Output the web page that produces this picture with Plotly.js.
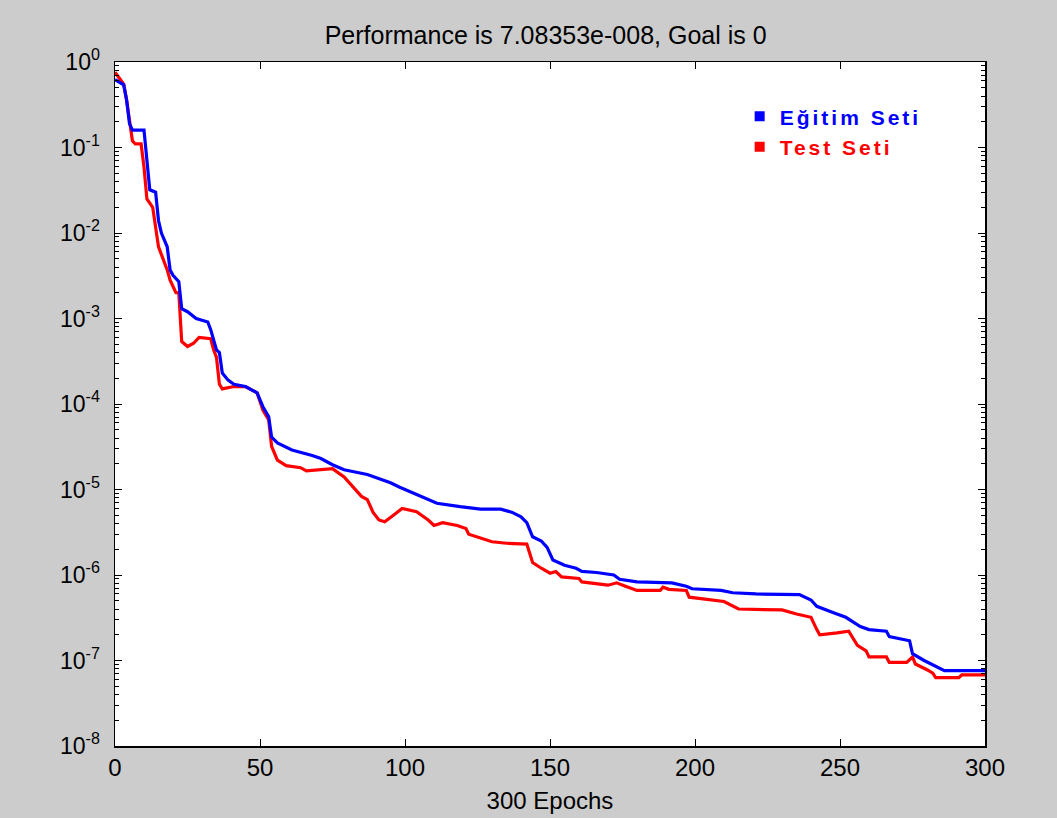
<!DOCTYPE html>
<html>
<head>
<meta charset="utf-8">
<script src="https://cdn.plot.ly/plotly-3.0.1.min.js"></script>
<style>
html,body{margin:0;padding:0;background:#cccccc;}
#chart{width:1057px;height:818px;}
.legendtext{letter-spacing:3px;}
</style>
</head>
<body>
<div id="chart"></div>
<script>
// Training set (Eğitim Seti) – epoch / performance breakpoints
const trainEpochs = [0,3,4,5,6,10,11,12,14,15,16,18,19,20,22,23,25,28,32,33,35,36,37,39,41,45,49,51,53,54,56,61,68,71,75,79,87,95,98,103,108,111,119,126,133,137,140,142,144,147,149,150,151,155,159,161,166,172,174,180,192,197,199,209,213,221,236,240,242,248,252,257,260,266,267,274,275,279,282,286,300];
const trainPerf = [0.62,0.54,0.36,0.19,0.16,0.16,0.071,0.032,0.030,0.014,0.010,0.0069,0.0037,0.0032,0.0027,0.0013,0.0012,0.0010,9.1e-4,7.4e-4,4.3e-4,4.0e-4,2.3e-4,1.9e-4,1.7e-4,1.6e-4,1.35e-4,9.3e-5,7.1e-5,4.1e-5,3.5e-5,2.9e-5,2.5e-5,2.3e-5,1.95e-5,1.7e-5,1.5e-5,1.2e-5,1.07e-5,9.1e-6,7.6e-6,6.9e-6,6.3e-6,5.9e-6,5.9e-6,5.4e-6,4.8e-6,4.1e-6,2.8e-6,2.5e-6,2.1e-6,1.8e-6,1.5e-6,1.3e-6,1.2e-6,1.1e-6,1.07e-6,1.0e-6,8.9e-7,8.3e-7,8.1e-7,7.4e-7,6.9e-7,6.6e-7,6.2e-7,6.0e-7,5.9e-7,5.1e-7,4.3e-7,3.6e-7,3.2e-7,2.5e-7,2.3e-7,2.2e-7,1.9e-7,1.7e-7,1.2e-7,1.0e-7,8.9e-8,7.6e-8,7.6e-8];

// Test set (Test Seti)
const testEpochs = [0,3,4,5,6,7,9,10,11,13,15,18,19,21,22,23,25,27,29,33,34,35,36,37,41,45,49,51,53,54,56,59,64,66,75,79,85,87,89,91,93,96,99,104,108,110,113,118,121,122,126,130,135,142,143,144,147,150,152,154,160,161,170,173,176,180,188,189,191,197,198,204,210,215,230,235,240,242,243,249,253,256,259,260,266,267,273,275,276,280,282,283,291,292,300];
const testPerf = [0.76,0.55,0.36,0.21,0.12,0.11,0.11,0.059,0.025,0.020,0.0069,0.0037,0.0028,0.0020,0.0020,5.4e-4,4.7e-4,5.1e-4,6.0e-4,5.8e-4,4.3e-4,3.5e-4,1.7e-4,1.5e-4,1.6e-4,1.6e-4,1.35e-4,8.5e-5,6.5e-5,3.2e-5,2.2e-5,1.9e-5,1.8e-5,1.65e-5,1.75e-5,1.4e-5,8.3e-6,7.6e-6,5.4e-6,4.4e-6,4.2e-6,5.0e-6,6.0e-6,5.5e-6,4.4e-6,3.8e-6,4.1e-6,3.8e-6,3.5e-6,3.0e-6,2.7e-6,2.45e-6,2.35e-6,2.3e-6,1.8e-6,1.4e-6,1.2e-6,1.05e-6,1.1e-6,9.5e-7,9.1e-7,8.3e-7,7.6e-7,8.1e-7,7.4e-7,6.6e-7,6.6e-7,7.2e-7,6.8e-7,6.6e-7,5.5e-7,5.2e-7,4.9e-7,4.0e-7,3.9e-7,3.5e-7,3.2e-7,2.3e-7,2.0e-7,2.1e-7,2.2e-7,1.5e-7,1.3e-7,1.1e-7,1.1e-7,9.5e-8,9.5e-8,1.1e-7,9.1e-8,7.8e-8,7.1e-8,6.3e-8,6.3e-8,6.8e-8,6.8e-8];

const seriesNames = ['Eğitim Seti', 'Test Seti'];
const xTickVals = [0,50,100,150,200,250,300];
const yExponents = [0,-1,-2,-3,-4,-5,-6,-7,-8];

const yTickVals = yExponents.map(e => Math.pow(10, e));
const yTickText = yExponents.map(e => '10<sup>' + e + '</sup>');
const minorVals = [];
for (let e = -8; e < 0; e++) for (let m = 2; m <= 9; m++) minorVals.push(m * Math.pow(10, e));

const BLUE = '#0000ff', RED = '#ff0000';
const traces = [
  {x: testEpochs, y: testPerf, mode: 'lines', line: {color: RED, width: 3.2}, showlegend: false, hoverinfo: 'skip'},
  {x: trainEpochs, y: trainPerf, mode: 'lines', line: {color: BLUE, width: 3.2}, showlegend: false, hoverinfo: 'skip'},
  {x: [null], y: [null], mode: 'markers', marker: {symbol: 'square', color: BLUE, size: 10},
   name: '<b><span style="color:' + BLUE + '">' + seriesNames[0] + '</span></b>'},
  {x: [null], y: [null], mode: 'markers', marker: {symbol: 'square', color: RED, size: 10},
   name: '<b><span style="color:' + RED + '">' + seriesNames[1] + '</span></b>'}
];

const FAM = '"Liberation Sans", Arial, sans-serif';
const layout = {
  width: 1057, height: 818,
  paper_bgcolor: '#cccccc', plot_bgcolor: '#ffffff',
  margin: {l: 115, r: 72, t: 62, b: 72, pad: 0},
  font: {family: FAM, size: 23, color: '#000'},
  title: {text: 'Performance is 7.08353e-008, Goal is 0', x: 0.495, xref: 'paper', y: 1 - 35/818, yanchor: 'middle',
          font: {family: FAM, size: 25, color: '#000'}},
  xaxis: {
    range: [0, 300], tickmode: 'array', tickvals: xTickVals,
    ticks: 'inside', ticklen: 7, tickwidth: 1, tickcolor: '#000',
    showline: true, linecolor: '#000', linewidth: 1.5, mirror: 'ticks',
    showgrid: false, zeroline: false,
    tickfont: {family: FAM, size: 24, color: '#000'},
    title: {text: '300 Epochs', font: {family: FAM, size: 24, color: '#000'}, standoff: 12}
  },
  yaxis: {
    type: 'log', range: [-8, 0], tickmode: 'array', tickvals: yTickVals, ticktext: yTickText,
    ticks: 'inside', ticklen: 7, tickwidth: 1, tickcolor: '#000',
    showline: true, linecolor: '#000', linewidth: 1.5, mirror: 'ticks',
    showgrid: false, zeroline: false, ticklabelstandoff: 9,
    tickfont: {family: FAM, size: 23, color: '#000'},
    minor: {tickmode: 'array', tickvals: minorVals, ticks: 'inside', ticklen: 4, tickcolor: '#000', showgrid: false}
  },
  legend: {x: 0.718, y: 0.95, xanchor: 'left', yanchor: 'top', bgcolor: 'rgba(255,255,255,0)', borderwidth: 0,
           font: {family: FAM, size: 21}, tracegroupgap: 0, itemwidth: 30},
  showlegend: true
};

Plotly.newPlot('chart', traces, layout, {staticPlot: true, displayModeBar: false});
</script>
</body>
</html>
